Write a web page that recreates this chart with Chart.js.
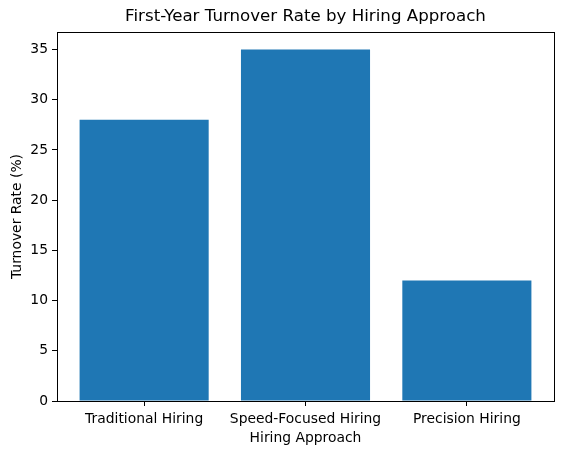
<!DOCTYPE html>
<html>
<head>
<meta charset="utf-8">
<script src="https://cdn.jsdelivr.net/npm/chart.js@4/dist/chart.umd.min.js"></script>
<style>
 html,body{margin:0;padding:0;background:#fff;}
 #wrap{width:562px;height:455px;}
</style>
</head>
<body>
<div id="wrap"><canvas id="c"></canvas></div>
<script>
const categories=["Traditional Hiring","Speed-Focused Hiring","Precision Hiring"];
const turnover=[28,35,12];
const yTicks=[0,5,10,15,20,25,30,35];
const chartTitle='First-Year Turnover Rate by Hiring Approach';

const FONT="'DejaVu Sans', sans-serif";

// spines all round + title centred over the axes, like matplotlib
const frame={
 id:'frame',
 afterDraw(chart){
  const a=chart.chartArea, c=chart.ctx;
  c.save();
  c.strokeStyle='#000';c.lineWidth=1;
  c.strokeRect(Math.round(a.left)+0.5,Math.round(a.top)+0.5,Math.round(a.right-a.left),Math.round(a.bottom-a.top));
  c.fillStyle='#000';
  c.font="16.67px "+FONT;
  c.textAlign='center';c.textBaseline='middle';
  c.fillText(chartTitle,(a.left+a.right)/2,17);
  c.restore();
 }
};

new Chart(document.getElementById('c'),{
 type:'bar',
 data:{
  datasets:[{
   data:categories.map((c,i)=>({x:i,y:turnover[i]})),
   backgroundColor:'#1f77b4',
   borderWidth:0,
   inflateAmount:0,
   barPercentage:0.8,
   categoryPercentage:1
  }]
 },
 options:{
  responsive:true,maintainAspectRatio:false,animation:false,
  layout:{padding:{left:0,right:8,top:32,bottom:0}},
  plugins:{
   legend:{display:false},
   tooltip:{enabled:false},
   title:{display:false}
  },
  scales:{
   x:{
    type:'linear',min:-0.54,max:2.54,offset:false,
    afterBuildTicks(s){s.ticks=categories.map((c,i)=>({value:i}));},
    afterFit(s){s.height=54;},
    ticks:{callback:v=>categories[v],color:'#000',font:{family:FONT,size:13.89},padding:5,maxRotation:0,autoSkip:false},
    grid:{drawOnChartArea:false,drawTicks:true,tickLength:5,color:'#000',offset:false},
    border:{display:true,color:'#000'},
    title:{display:true,text:'Hiring Approach',color:'#000',font:{family:FONT,size:13.89},padding:{top:0,bottom:8}}
   },
   y:{
    min:0,max:36.75,
    afterBuildTicks(s){s.ticks=yTicks.map(v=>({value:v}));},
    afterFit(s){s.width=57;},
    ticks:{color:'#000',font:{family:FONT,size:13.89},padding:4},
    grid:{drawOnChartArea:false,drawTicks:true,tickLength:5,color:'#000'},
    border:{display:true,color:'#000'},
    title:{display:true,text:'Turnover Rate (%)',color:'#000',font:{family:FONT,size:13.89},padding:{top:9,bottom:0}}
   }
  }
 },
 plugins:[frame]
});
</script>
</body>
</html>
